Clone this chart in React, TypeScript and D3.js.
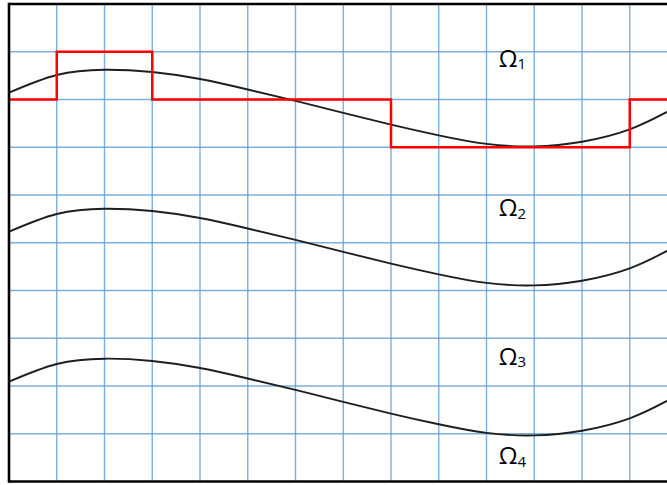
import React from "react";
import * as d3 from "d3";

// grid units: x = columns from left border, y = rows from top border
const colTicks = [1, 2, 3, 4, 5, 6, 7, 8, 9, 10, 11, 12, 13];
const rowTicks = [1, 2, 3, 4, 5, 6, 7, 8, 9];

// shared wave shape (row position of the first wave at each column)
const waveX = [0, 1, 2, 3, 4, 5, 6, 7, 8, 9, 10, 11, 12, 13, 13.78];
const waveY = [1.858, 1.487, 1.376, 1.425, 1.571, 1.79, 2.03, 2.28, 2.525, 2.75, 2.93, 2.982, 2.884, 2.624, 2.26];
// vertical offsets (rows) of the three waves
const waveOffsets = [0, 2.911, 6.052];

// red square wave: breakpoints and levels
const stepX = [0, 1, 3, 8, 13, 13.78];
const stepLevel = [2, 1, 2, 3, 2, 2];

const labelNames = ["1", "2", "3", "4"];
const labelX = [10.255, 10.255, 10.255, 10.255];
const labelY = [1.313, 4.45, 7.56, 9.634];

const W = 667;
const H = 485;

export default function App() {
  const x = d3.scaleLinear().domain([0, 14]).range([9, 9 + 14 * 47.75]);
  const y = d3.scaleLinear().domain([0, 10]).range([4, 481.5]);

  const wave = (off: number) =>
    d3
      .line<number>()
      .x((_, i) => x(waveX[i]))
      .y((v) => y(v + off))
      .curve(d3.curveNatural)(waveY) as string;

  const step = d3
    .line<number>()
    .x((_, i) => x(stepX[i]))
    .y((v) => y(v))
    .curve(d3.curveStepAfter)(stepLevel) as string;

  return (
    <svg
      width={W}
      height={H}
      style={{ position: "absolute", left: 0, top: 0, background: "#fff" }}
    >
      <rect x={0} y={0} width={W} height={H} fill="#fff" />
      <g stroke="#5B9BD5" strokeWidth={1.4} strokeOpacity={0.8}>
        {colTicks.map((c) => (
          <line key={"c" + c} x1={x(c)} x2={x(c)} y1={y(0)} y2={y(10)} />
        ))}
        {rowTicks.map((r) => (
          <line key={"r" + r} x1={x(0)} x2={W} y1={y(r)} y2={y(r)} />
        ))}
      </g>
      <g fill="none" stroke="#1e1e1e" strokeWidth={1.9}>
        {waveOffsets.map((o, i) => (
          <path key={i} d={wave(o)} />
        ))}
      </g>
      <path d={step} fill="none" stroke="#ff0000" strokeWidth={2.5} />
      <g stroke="#000" strokeWidth={2.6} fill="none">
        <line x1={x(0)} x2={x(0)} y1={y(0) - 1.3} y2={y(10) + 1.3} />
        <line x1={x(0)} x2={W} y1={y(0)} y2={y(0)} />
        <line x1={x(0)} x2={W} y1={y(10)} y2={y(10)} />
      </g>
      <g fontFamily="'Open Sans', sans-serif" fill="#000">
        {labelNames.map((n, i) => (
          <text key={n} x={x(labelX[i])} y={y(labelY[i])} fontSize={24}>
            Ω
            <tspan fontSize={15} dy={2.5}>
              {n}
            </tspan>
          </text>
        ))}
      </g>
    </svg>
  );
}
